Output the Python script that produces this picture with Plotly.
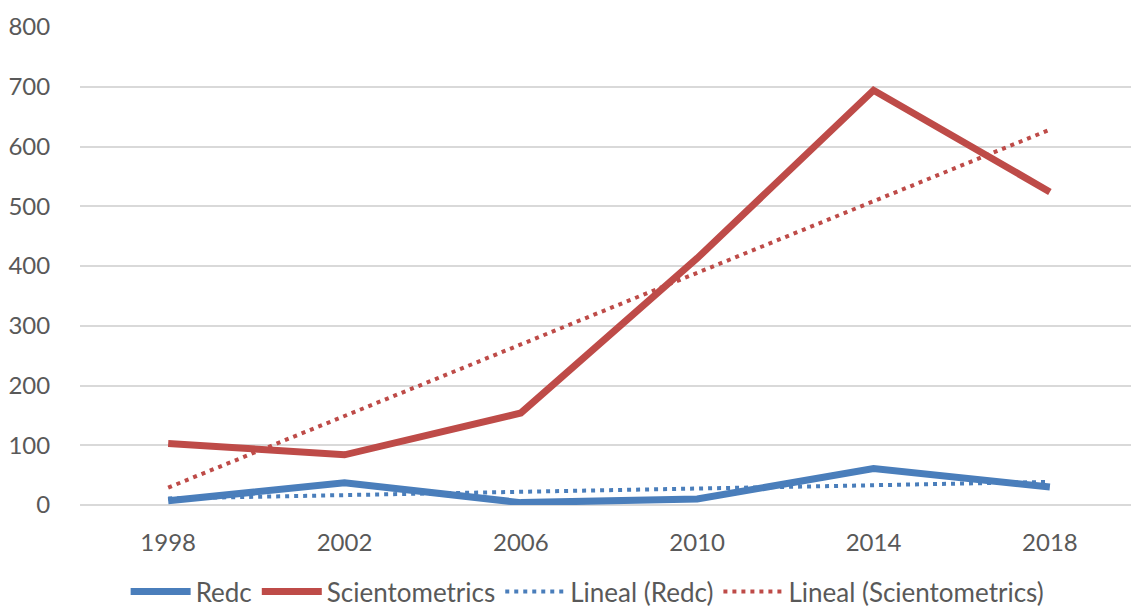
import numpy as np
import plotly.graph_objects as go

years = ["1998", "2002", "2006", "2010", "2014", "2018"]
redc = [7, 37, 4, 10, 61, 30]
scientometrics = [103, 84, 154, 413, 694, 524]
y_ticks = [0, 100, 200, 300, 400, 500, 600, 700, 800]

BLUE = "#4a7ebb"
RED = "#be4b48"
FONT = "Lato, 'Open Sans', sans-serif"
TXT = "#595959"

idx = np.arange(len(years))

def trend(vals):
    slope, intercept = np.polyfit(idx, vals, 1)
    return list(intercept + slope * idx)

fig = go.Figure()
fig.add_trace(go.Scatter(x=years, y=redc, mode="lines", name="Redc",
                         line=dict(color=BLUE, width=7), cliponaxis=False))
fig.add_trace(go.Scatter(x=years, y=scientometrics, mode="lines", name="Scientometrics",
                         line=dict(color=RED, width=7), cliponaxis=False))
fig.add_trace(go.Scatter(x=years, y=trend(redc), mode="lines", name="Lineal (Redc)",
                         line=dict(color=BLUE, width=4, dash="4px,5px"), cliponaxis=False))
fig.add_trace(go.Scatter(x=years, y=trend(scientometrics), mode="lines",
                         name="Lineal (Scientometrics)",
                         line=dict(color=RED, width=4, dash="4px,5px"), cliponaxis=False))

fig.update_layout(
    width=1131, height=615,
    margin=dict(l=80, r=0, t=27, b=110, autoexpand=False),
    paper_bgcolor="white", plot_bgcolor="white",
    font=dict(family=FONT, size=24, color=TXT),
    showlegend=True,
    legend=dict(orientation="h", x=0.483, xanchor="center",
                yref="container", y=0.0, yanchor="bottom",
                bgcolor="rgba(0,0,0,0)",
                font=dict(family=FONT, size=26, color=TXT), itemwidth=60,
                tracegroupgap=0),
    xaxis=dict(type="category", range=[-0.5, 5.46], showgrid=False, zeroline=False,
               showline=False, ticks="outside", ticklen=16, tickcolor="rgba(0,0,0,0)",
               tickfont=dict(family=FONT, size=24, color=TXT)),
    yaxis=dict(range=[0, 800], tickvals=y_ticks, showgrid=True, gridcolor="#d9d9d9",
               gridwidth=2, zeroline=True, zerolinecolor="#d9d9d9", zerolinewidth=2,
               showline=False, ticks="outside", ticklen=24, tickcolor="rgba(0,0,0,0)",
               tickfont=dict(family=FONT, size=24, color=TXT)),
)

fig.write_html("out.html")
